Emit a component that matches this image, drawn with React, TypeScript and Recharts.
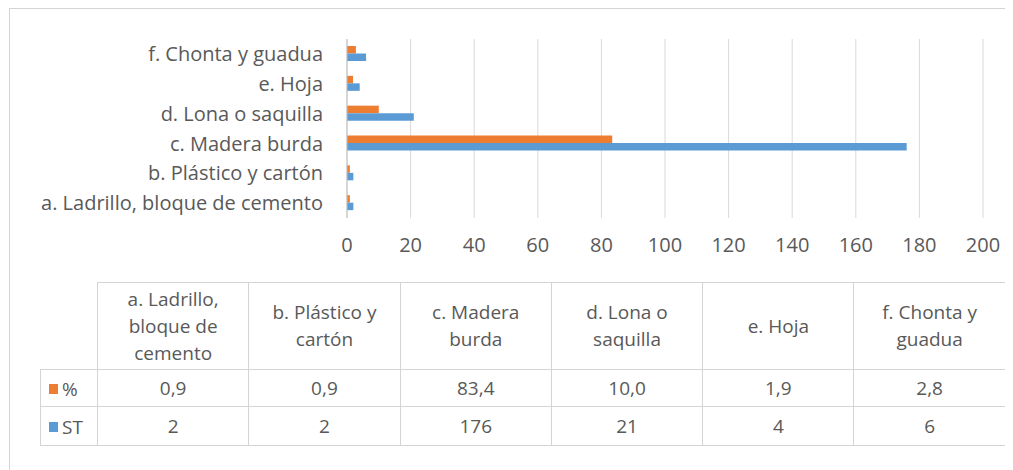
import React from "react";
import { BarChart, Bar, XAxis, YAxis, CartesianGrid } from "recharts";

const categories = [
  "a. Ladrillo, bloque de cemento",
  "b. Plástico y cartón",
  "c. Madera burda",
  "d. Lona o saquilla",
  "e. Hoja",
  "f. Chonta y guadua",
];
// table headers wrap differently from axis labels
const headerLines = [
  ["a. Ladrillo,", "bloque de", "cemento"],
  ["b. Plástico y", "cartón"],
  ["c. Madera", "burda"],
  ["d. Lona o", "saquilla"],
  ["e. Hoja"],
  ["f. Chonta y", "guadua"],
];
const pct = [0.9, 0.9, 83.4, 10.0, 1.9, 2.8];
const st = [2, 2, 176, 21, 4, 6];
const xTicks = [0, 20, 40, 60, 80, 100, 120, 140, 160, 180, 200];

const ORANGE = "#ED7D31";
const BLUE = "#5B9BD5";
const TEXT = "#595959";
const FONT = "'Open Sans', sans-serif";
const LINE = "#d4d4d4";

const data = categories.map((c, i) => ({ cat: c, pct: pct[i], st: st[i] }));

const cell: React.CSSProperties = {
  border: `1px solid ${LINE}`,
  textAlign: "center",
  verticalAlign: "middle",
  padding: 0,
  color: TEXT,
  fontSize: 19,
};

function Key({ color, label }: { color: string; label: string }) {
  return (
    <span style={{ display: "inline-flex", alignItems: "center" }}>
      <span
        style={{ width: 9, height: 10, background: color, display: "inline-block", marginRight: 4 }}
      />
      {label}
    </span>
  );
}

export default function App() {
  return (
    <div
      style={{
        position: "relative",
        width: 1010,
        height: 470,
        marginLeft: 1,
        borderLeft: `1px solid ${LINE}`,
        borderTop: `1px solid ${LINE}`,
        fontFamily: FONT,
        overflow: "hidden",
      }}
    >
      <div style={{ position: "absolute", left: -1, top: -1 }}>
        <BarChart
          width={1000}
          height={260}
          data={data}
          layout="vertical"
          margin={{ top: 31, right: 26, left: 0, bottom: 10 }}
          barSize={7.5}
          barGap={0}
        >
          <CartesianGrid horizontal={false} stroke="#d9d9d9" />
          <XAxis
            type="number"
            domain={[0, 200]}
            ticks={xTicks}
            axisLine={false}
            tickLine={false}
            tickSize={0}
            tickMargin={20}
            height={40}
            interval={0}
            tick={{ fontSize: 20, fill: TEXT, fontFamily: FONT }}
          />
          <YAxis
            type="category"
            dataKey="cat"
            reversed
            width={338}
            tickLine={false}
            tickSize={0}
            tickMargin={24}
            axisLine={{ stroke: "#bfbfbf" }}
            interval={0}
            tick={{ fontSize: 20, fill: TEXT, fontFamily: FONT }}
          />
          <Bar dataKey="pct" fill={ORANGE} isAnimationActive={false} />
          <Bar dataKey="st" fill={BLUE} isAnimationActive={false} />
        </BarChart>
      </div>

      <table
        style={{
          position: "absolute",
          left: 30,
          top: 273,
          borderCollapse: "collapse",
          tableLayout: "fixed",
          fontFamily: FONT,
        }}
      >
        <colgroup>
          <col style={{ width: 57 }} />
          {categories.map((c) => (
            <col key={c} style={{ width: 151.3 }} />
          ))}
        </colgroup>
        <tbody>
          <tr style={{ height: 87 }}>
            <td style={{ ...cell, border: "none" }} />
            {headerLines.map((lines, i) => (
              <td key={i} style={{ ...cell, lineHeight: "27px" }}>
                {lines.map((l) => (
                  <div key={l}>{l}</div>
                ))}
              </td>
            ))}
          </tr>
          <tr style={{ height: 37 }}>
            <td style={{ ...cell, textAlign: "left", paddingLeft: 8 }}>
              <Key color={ORANGE} label="%" />
            </td>
            {pct.map((v, i) => (
              <td key={i} style={cell}>
                {v.toFixed(1).replace(".", ",")}
              </td>
            ))}
          </tr>
          <tr style={{ height: 39 }}>
            <td style={{ ...cell, textAlign: "left", paddingLeft: 8 }}>
              <Key color={BLUE} label="ST" />
            </td>
            {st.map((v, i) => (
              <td key={i} style={cell}>
                {v}
              </td>
            ))}
          </tr>
        </tbody>
      </table>
    </div>
  );
}
